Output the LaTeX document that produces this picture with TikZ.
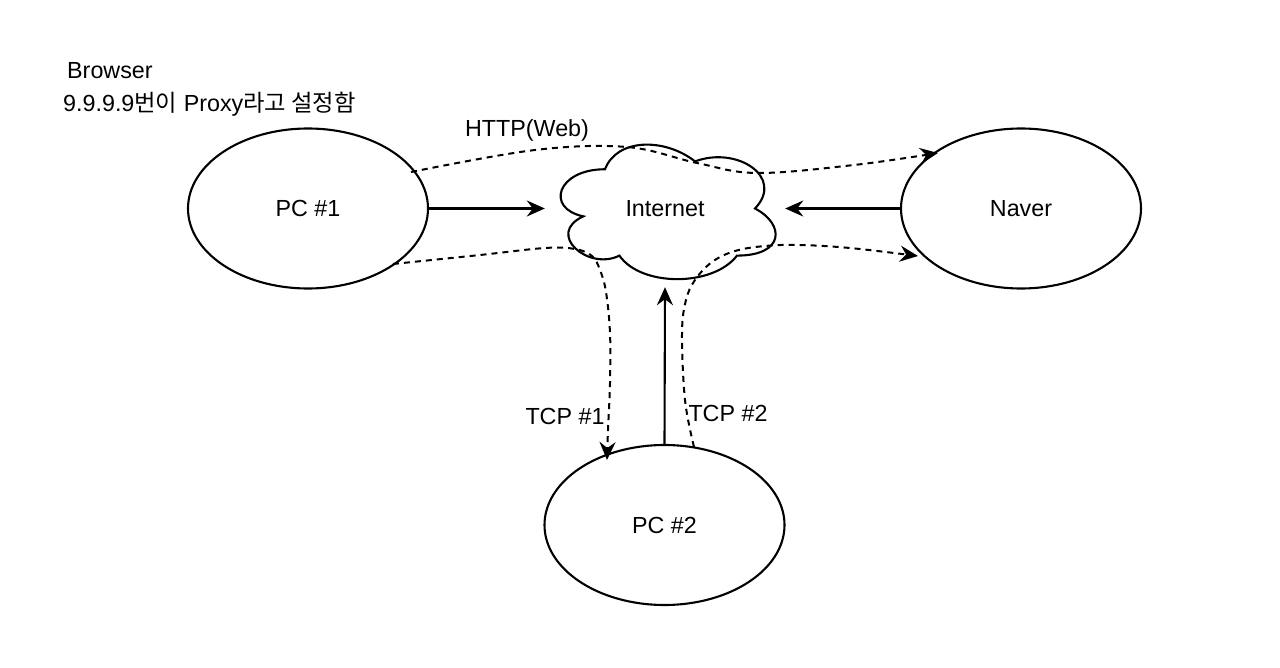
\documentclass[tikz,border=0pt]{standalone}
\usepackage{fontspec}
\setmainfont{Liberation Sans}
\newfontfamily\kr{Noto Sans CJK KR}
\usetikzlibrary{shapes.geometric,arrows.meta}
\begin{document}
\begin{tikzpicture}[x=1pt,y=-1pt,
  every node/.style={font=\fontsize{23.3}{28}\selectfont},
  ell/.style={ellipse,draw,line width=2.1pt,minimum width=240pt,minimum height=160pt,inner sep=0pt},
  tip/.style={-{Stealth[length=18pt,width=16pt,inset=6pt]}},
  solidarrow/.style={tip,line width=2.1pt},
  dasharrow/.style={tip,line width=2pt,dash pattern=on 6pt off 5pt},
  lbl/.style={inner sep=0pt}]
\useasboundingbox (0,0) rectangle (1280,668);
\fill[white] (0,0) rectangle (1280,668);
% nodes
\node[ell] (pc1) at (308,208.5) {PC \#1};
\node[ell] (naver) at (1021,208.5) {Naver};
\node[ell] (pc2) at (664.5,525) {PC \#2};
\node[minimum width=240pt,minimum height=157pt,inner sep=0pt] (inet) at (665,208.5) {};
% cloud (drawio cloud shape on box 545..785 x 130..287)
\begin{scope}[shift={(545,130)},x=240pt,y=-157pt]
\draw[line width=2.1pt,fill=white] (0.25,0.25)
  .. controls (0.05,0.25) and (0,0.5) .. (0.16,0.55)
  .. controls (0,0.66) and (0.18,0.9) .. (0.31,0.8)
  .. controls (0.4,1) and (0.7,1) .. (0.8,0.8)
  .. controls (1,0.8) and (1,0.6) .. (0.875,0.5)
  .. controls (1,0.3) and (0.8,0.1) .. (0.625,0.2)
  .. controls (0.5,0.05) and (0.3,0.05) .. (0.25,0.25) -- cycle;
\end{scope}
\node[lbl] (inettext) at (inet.center) {Internet};
% solid connectors
\draw[solidarrow] (pc1.east) -- (inet.west);
\draw[solidarrow] (naver.west) -- (inet.east);
\draw[solidarrow] (pc2.north) -- (inet.south);
% waypoints
\coordinate (a0) at (411,172);
\coordinate (a1) at (938,153);
\coordinate (b0) at (393,264);
\coordinate (b1) at (607,460);
\coordinate (c0) at (694,447);
\coordinate (c1) at (918,256);
% dashed curves
\draw[dasharrow] plot[smooth,tension=0.6] coordinates {(a0) (535,150) (627,147) (697,163) (757,173) (854,165) (a1)};
\draw[dasharrow] plot[smooth,tension=0.6] coordinates {(b0) (480,255) (545,248) (575,249) (592,256) (600,270) (606,292) (610,333) (610,383) (608,430) (b1)};
\draw[dasharrow] plot[smooth,tension=0.6] coordinates {(c0) (685,400) (682,333) (686,300) (695,280) (712,262) (735,251) (765,246) (800,245) (850,248) (c1)};
% labels
\node[lbl,anchor=west] (browser) at (67,71) {Browser};
\node[lbl,anchor=west] (proxy) at (63,104) {9.9.9.9{\kr 번이} Proxy{\kr 라고 설정함}};
\node[lbl] (http) at (527,130) {HTTP(Web)};
\node[lbl] (tcp1) at (565,416) {TCP \#1};
\node[lbl] (tcp2) at (728,413) {TCP \#2};
\end{tikzpicture}
\end{document}
